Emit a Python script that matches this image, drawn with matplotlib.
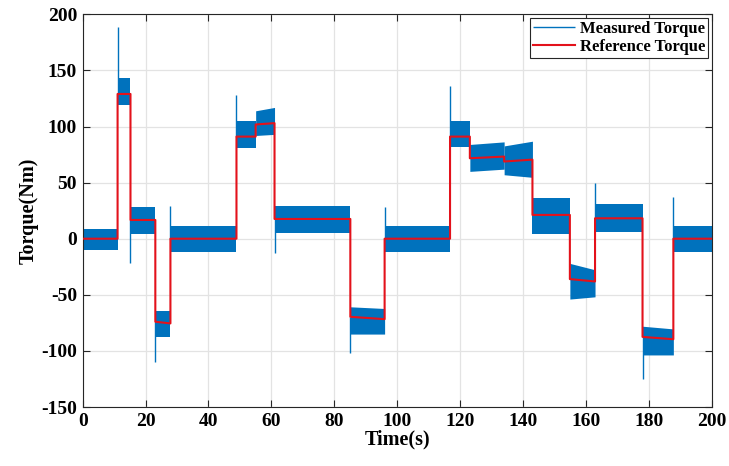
import numpy as np
import matplotlib
matplotlib.use("Agg")
import matplotlib.pyplot as plt

plt.rcParams['font.family'] = ['Liberation Serif', 'DejaVu Serif']
plt.rcParams['font.weight'] = 'bold'
plt.rcParams['axes.unicode_minus'] = False

# segments of the test profile (start/end time, band limits, reference)
t_start = [0, 11.1, 15.2, 23.1, 27.9, 48.9, 55, 61, 85.1, 96, 116.8, 123.1, 134, 143, 154.9, 162.9, 178, 187.8]
t_end = [11.1, 15.2, 23.1, 27.9, 48.9, 55, 61, 85.1, 96, 116.8, 123.1, 134, 143, 154.9, 162.9, 178, 187.8, 200]
band_lo_start = [-10, 119, 4, -88, -11.6, 81, 92, 5, -85, -11.6, 81.5, 60, 57, 4.2, -53.8, 5.7, -103.6, -12.2]
band_lo_end = [-10, 119, 4, -88, -11.6, 81, 93, 5, -85, -11.6, 81.5, 62, 54.7, 4.2, -51.8, 5.7, -103.6, -12.2]
band_hi_start = [9, 143.5, 28, -64.5, 11.6, 104.5, 114, 29.5, -60.7, 11.6, 104.5, 84, 82.7, 36, -22, 31, -78, 11.6]
band_hi_end = [9, 143.5, 28, -64.5, 11.6, 104.5, 117, 29.5, -62.2, 11.6, 104.5, 86.3, 86.9, 36, -27.7, 31, -80.4, 11.6]
ref_start = [0, 129, 16.7, -74, 0, 91, 101.8, 17.6, -69.6, 0, 91, 71.7, 68.8, 21.2, -36, 18.2, -87.5, 0]
ref_end = [0, 129, 16.7, -75.5, 0, 91, 103, 17.6, -71.7, 0, 91, 73.2, 70.5, 21.2, -38.1, 18.2, -89.6, 0]

# transient spikes of the measured torque at the steps
spike_t = [11.1, 15.2, 23.1, 27.9, 48.9, 61, 85.1, 96, 116.8, 162.9, 178, 187.8]
spike_peak = [188.7, -22, -109.8, 28.9, 128.3, -12.8, -102, 28, 135.7, 49.4, -125.3, 36.9]
spike_base = [129, 16.7, -74, 0, 91, 17.6, -69.6, 0, 91, 18.2, -87.5, 0]

blue = '#0072BD'
red = '#E3121B'

fig = plt.figure(figsize=(7.29, 4.66), dpi=100)
ax = fig.add_axes([0.1134, 0.1266, 0.8629, 0.8427])

for i in range(len(t_start)):
    ax.fill_between([t_start[i], t_end[i]], [band_lo_start[i], band_lo_end[i]],
                    [band_hi_start[i], band_hi_end[i]], color=blue, lw=0, zorder=2)

ax.vlines(spike_t, spike_base, spike_peak, color=blue, lw=1.0, zorder=2,
          label='Measured Torque')

ref_t = []
ref_v = []
for i in range(len(t_start)):
    ref_t += [t_start[i], t_end[i]]
    ref_v += [ref_start[i], ref_end[i]]
ax.plot(ref_t, ref_v, color=red, lw=1.5, zorder=3, label='Reference Torque')

ax.set_xlim(0, 200)
ax.set_ylim(-150, 200)
ax.set_xticks(np.arange(0, 201, 20))
ax.set_yticks(np.arange(-150, 201, 50))
ax.grid(True, color='#e3e3e3', lw=0.9, zorder=0)
ax.set_axisbelow(True)
ax.tick_params(direction='in', length=5, width=0.8, top=True, right=True,
               labelsize=14, colors='#262626', pad=4)
for lab in ax.get_xticklabels() + ax.get_yticklabels():
    lab.set_fontweight('bold')
    lab.set_color('black')
for s in ax.spines.values():
    s.set_color('#262626')
    s.set_linewidth(0.8)

ax.set_xlabel('Time(s)', fontsize=14.5, fontweight='bold', labelpad=0)
ax.set_ylabel('Torque(Nm)', fontsize=14.5, fontweight='bold', labelpad=2)

leg = ax.legend(loc='upper right', fontsize=12, frameon=True, fancybox=False,
                edgecolor='#262626', framealpha=1, borderpad=0.2, labelspacing=0.1,
                handlelength=2.5, handletextpad=0.3, borderaxespad=0.2)
leg.get_frame().set_linewidth(0.8)
for t in leg.get_texts():
    t.set_fontweight('bold')

fig.savefig('out.png', dpi=100)
